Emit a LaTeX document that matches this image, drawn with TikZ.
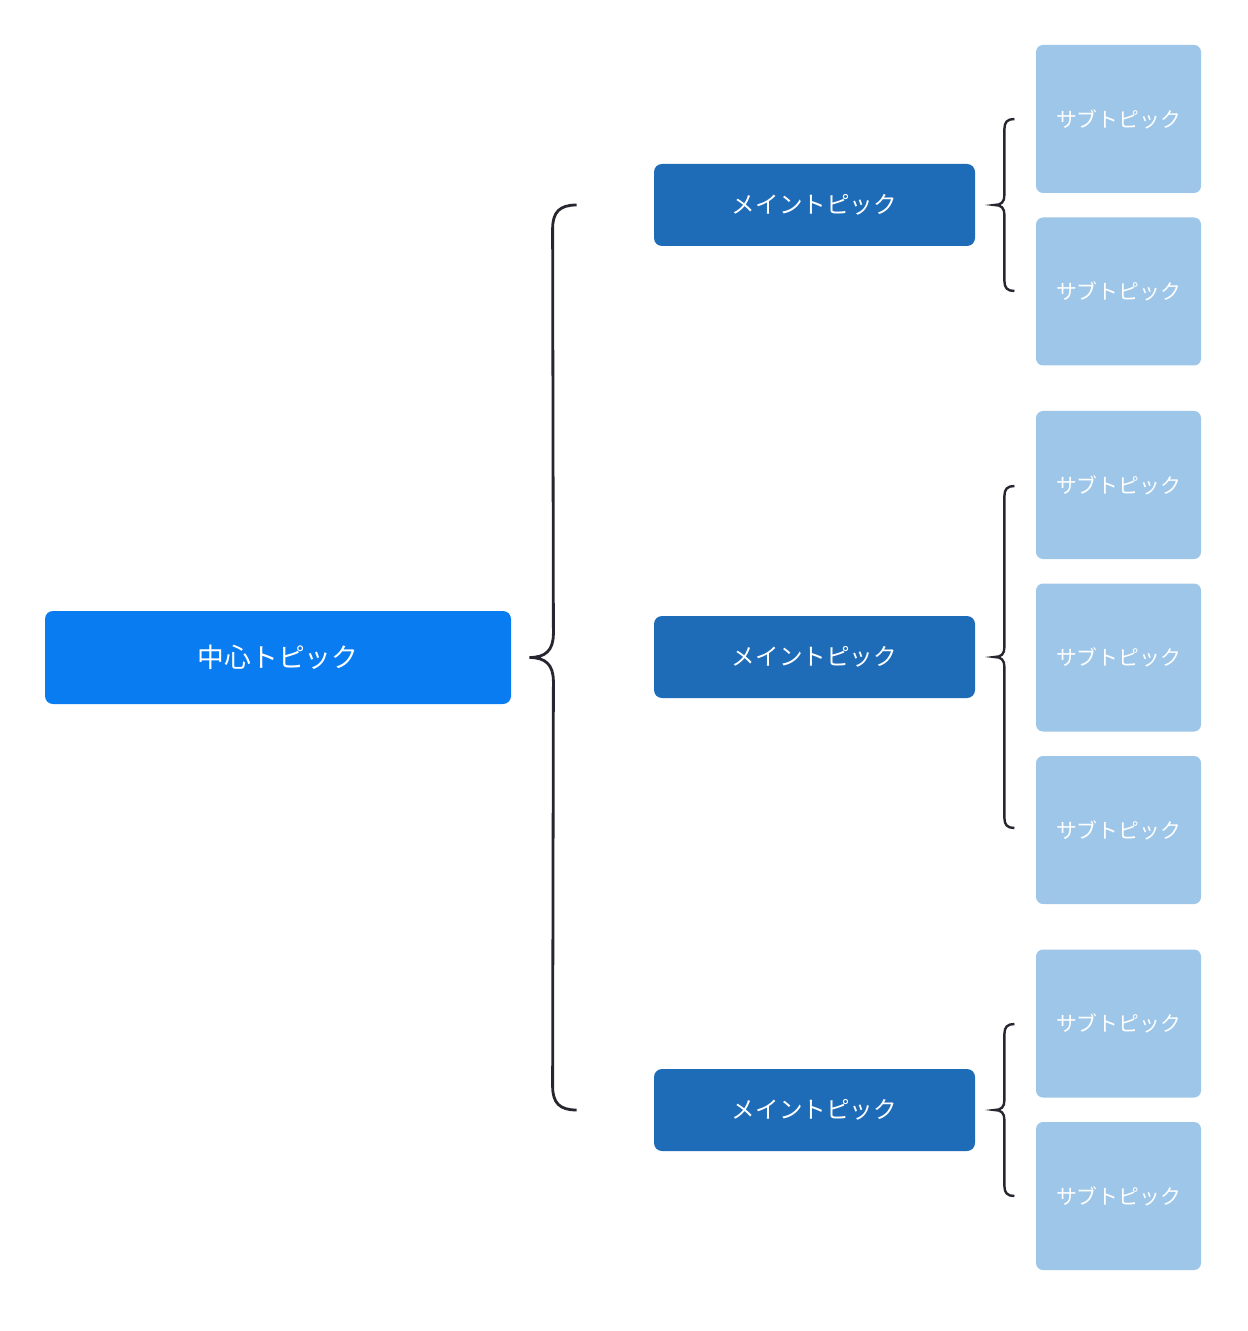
\documentclass[tikz,border=0pt]{standalone}
\usepackage{fontspec}
\setmainfont{Noto Sans CJK JP}
\usepackage{xcolor}
\usetikzlibrary{calc}

\definecolor{centerblue}{HTML}{087CF0}
\definecolor{mainblue}{HTML}{1E6BB8}
\definecolor{subblue}{HTML}{9DC6E9}
\definecolor{braceline}{HTML}{262630}

\begin{document}
\begin{tikzpicture}[x=0.5pt, y=-0.5pt,
  centertopic/.style={fill=centerblue, text=white, rounded corners=4pt,
    minimum width=233pt, minimum height=46.5pt, inner sep=0pt,
    font=\fontsize{13.4pt}{15pt}\selectfont},
  maintopic/.style={fill=mainblue, text=white, rounded corners=4pt,
    minimum width=160.5pt, minimum height=41pt, inner sep=0pt,
    font=\fontsize{11.8pt}{14pt}\selectfont},
  subtopic/.style={fill=subblue, text=white, rounded corners=3.5pt,
    minimum width=82.5pt, minimum height=74pt, inner sep=0pt,
    font=\fontsize{10.4pt}{12pt}\selectfont},
  bigbrace/.style={draw=braceline, line width=1.4pt},
  smallbrace/.style={draw=braceline, line width=1.2pt}]
\useasboundingbox (0,0) rectangle (1247,1331);

% Central topic
\node[centertopic] (center) at (278,657.5) {中心トピック};

% Main topics
\node[maintopic] (m1) at (814.5,205) {メイントピック};
\node[maintopic] (m2) at (814.5,657) {メイントピック};
\node[maintopic] (m3) at (814.5,1110) {メイントピック};

% Sub topics
\node[subtopic] (s11) at (1118.5,119) {サブトピック};
\node[subtopic] (s12) at (1118.5,291.5) {サブトピック};
\node[subtopic] (s21) at (1118.5,485) {サブトピック};
\node[subtopic] (s22) at (1118.5,657.5) {サブトピック};
\node[subtopic] (s23) at (1118.5,830) {サブトピック};
\node[subtopic] (s31) at (1118.5,1023.5) {サブトピック};
\node[subtopic] (s32) at (1118.5,1196) {サブトピック};

% Brace from central topic to main topics
\coordinate (bt) at ([xshift=9pt]center.east);
\draw[bigbrace] ($(m1.west)+(-77,0)$) .. controls +(-17,0) and +(0,-17) .. ++(-24,24)
  -- ($(bt)+(24,-24)$) .. controls +(0,17) and +(16,0) .. (bt)
  .. controls +(16,0) and +(0,-17) .. ++(24,24)
  -- ($(m3.west)+(-101,-24)$) .. controls +(0,17) and +(-17,0) .. ($(m3.west)+(-77,0)$);

% Braces from main topics to sub topics
\foreach \m/\h in {m1/86, m2/171, m3/86}{
  \coordinate (t) at ([xshift=9.5pt]\m.east);
  \draw[smallbrace] ($(t)+(20,-\h)$) .. controls +(-7,0) and +(0,-7) .. ++(-10,10)
    -- ($(t)+(10,-10)$) .. controls +(0,7) and +(7,0) .. (t)
    .. controls +(7,0) and +(0,-7) .. ++(10,10)
    -- ($(t)+(10,\h-10)$) .. controls +(0,7) and +(-7,0) .. ($(t)+(20,\h)$);
}
\end{tikzpicture}
\end{document}
